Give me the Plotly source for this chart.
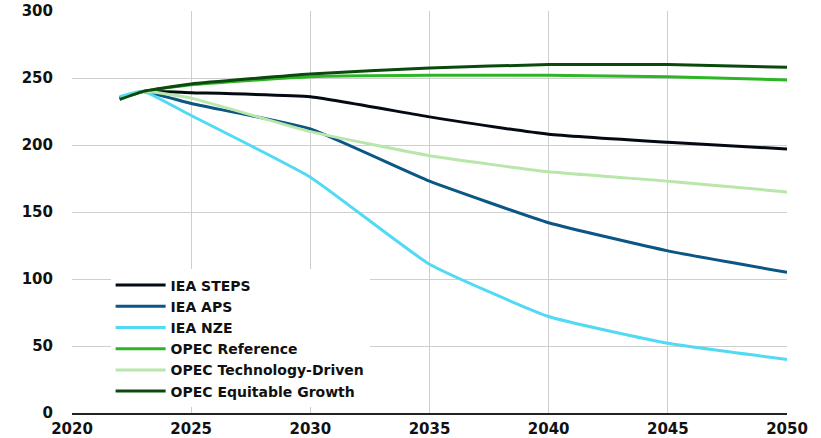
import plotly.graph_objects as go

years = [2022, 2023, 2025, 2030, 2035, 2040, 2045, 2050]

iea_steps = [235, 240, 239, 236, 221, 208, 202, 197]
iea_aps = [235, 240, 231, 212, 173, 142, 121, 105]
iea_nze = [236, 240, 222, 176, 111, 72, 52, 40]
opec_ref = [234, 240, 245, 251, 252, 252, 251, 248.5]
opec_tech = [234, 240, 235, 210, 192, 180, 173, 165]
opec_equit = [234, 240, 245.5, 253, 257.5, 260, 260, 258]

series = [
    ("IEA STEPS", iea_steps, "#050a12"),
    ("IEA APS", iea_aps, "#0a5684"),
    ("IEA NZE", iea_nze, "#52daf5"),
    ("OPEC Reference", opec_ref, "#2eb525"),
    ("OPEC Technology-Driven", opec_tech, "#b9e6aa"),
    ("OPEC Equitable Growth", opec_equit, "#0b4a0e"),
]

x_ticks = [2020, 2025, 2030, 2035, 2040, 2045, 2050]
y_ticks = [0, 50, 100, 150, 200, 250, 300]

fig = go.Figure()
for name, vals, color in series:
    fig.add_trace(go.Scatter(
        x=years, y=vals, name=name, mode="lines",
        line=dict(color=color, width=3, shape="spline", smoothing=0.4),
    ))

font = "DejaVu Sans, Liberation Sans, Arial, sans-serif"
fig.update_layout(
    width=821, height=438,
    margin=dict(l=72, r=34, t=11, b=25),
    paper_bgcolor="white", plot_bgcolor="white",
    showlegend=True,
    legend=dict(
        x=0.054, y=0.357, xanchor="left", yanchor="top",
        bgcolor="white", borderwidth=0,
        font=dict(family=font, size=14, color="#111111", weight="bold"),
        itemwidth=50, tracegroupgap=0,
    ),
    xaxis=dict(
        range=[2020, 2050], tickvals=x_ticks, ticktext=[str(v) for v in x_ticks],
        showgrid=True, gridcolor="#cfcfcf", gridwidth=1,
        zeroline=False, showline=True, linecolor="#222222", linewidth=1.5,
        ticks="", ticklabelstandoff=1, automargin=False,
        tickfont=dict(family=font, size=15, color="#111111", weight="bold"),
    ),
    yaxis=dict(
        range=[0, 300], tickvals=y_ticks, ticktext=[str(v) for v in y_ticks],
        showgrid=True, gridcolor="#cfcfcf", gridwidth=1,
        zeroline=False, showline=False,
        ticks="", ticklabelstandoff=18, automargin=False,
        tickfont=dict(family=font, size=15, color="#111111", weight="bold"),
    ),
)

# remove the default 8px page margin so the figure fills the window exactly
fig.write_html(
    "out.html",
    config={"displayModeBar": False},
    post_script="document.body.style.margin='0';document.body.style.overflow='hidden';",
)
